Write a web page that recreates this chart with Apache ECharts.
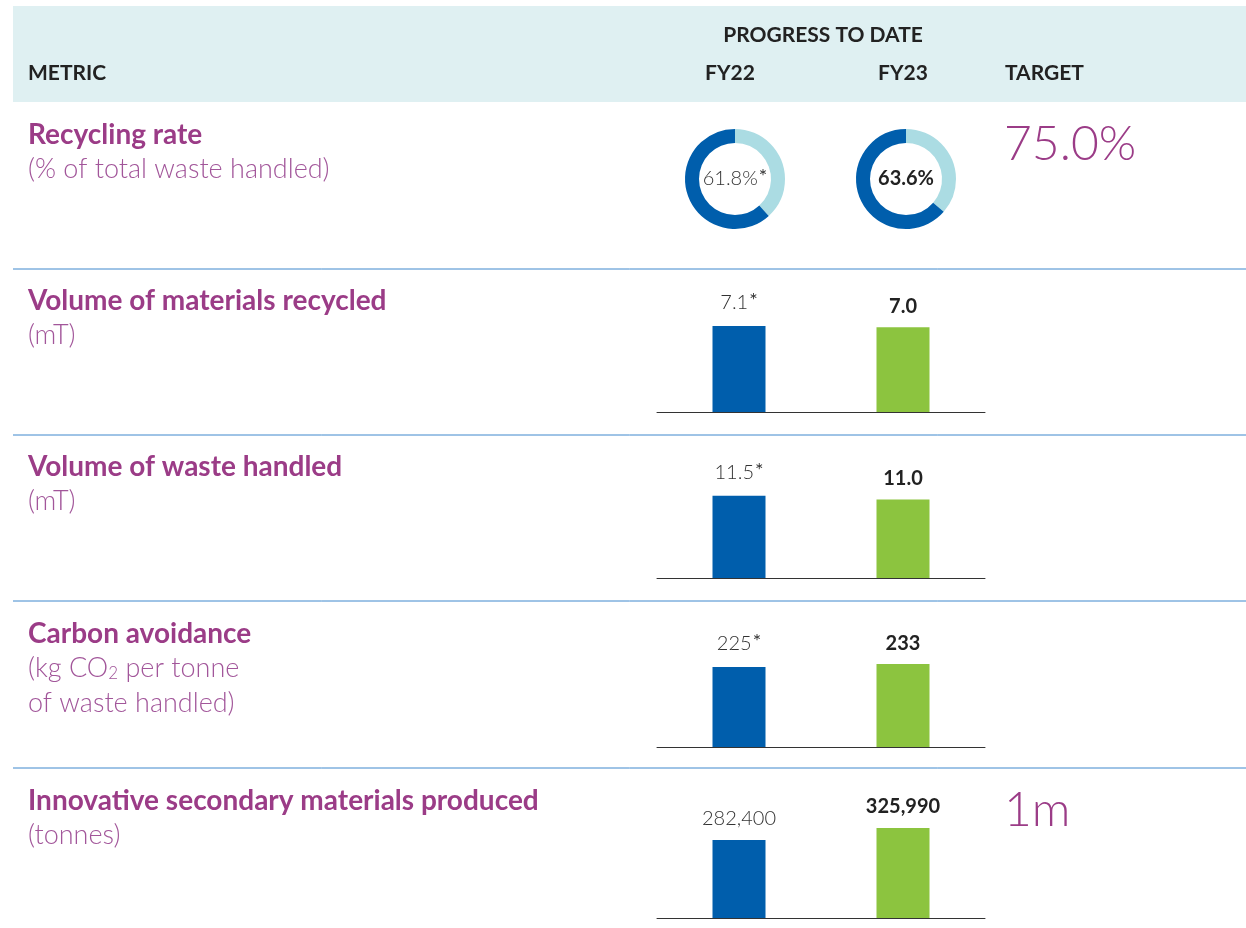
<!DOCTYPE html>
<html>
<head>
<meta charset="utf-8">
<script src="https://cdn.jsdelivr.net/npm/echarts@6/dist/echarts.min.js"></script>
<style>
  html, body { margin: 0; padding: 0; background: #fff; }
  #chart { width: 1246px; height: 928px; }
</style>
</head>
<body>
<div id="chart"></div>
<script>
// data
const years = ['FY22', 'FY23'];
const metrics = [
  'Recycling rate',
  'Volume of materials recycled',
  'Volume of waste handled',
  'Carbon avoidance',
  'Innovative secondary materials produced'
];
const units = [
  ['(% of total waste handled)'],
  ['(mT)'],
  ['(mT)'],
  ['(kg CO{sub|2} per tonne', 'of waste handled)'],
  ['(tonnes)']
];
const fy22 = [61.8, 7.1, 11.5, 225, 282400];
const fy23 = [63.6, 7.0, 11.0, 233, 325990];
const fy22Restated = [true, true, true, true, false];   // the little asterisk
const decimals = [1, 1, 1, 0, 0];
const targets = ['75.0%', '', '', '', '1m'];

const FONT = 'Lato, "Noto Sans", sans-serif';
const PURPLE = '#9b3c87';
const PURPLE_LIGHT = '#a2569a';
const BLUE = '#005eac';
const TEAL = '#abdce3';
const GREEN = '#8cc43f';

// row layout (y of title line, bar baseline)
const titleY = [135, 301, 467, 634, 801];
const separatorY = [269, 435, 601, 768];
const baseY = [null, 412, 578, 747, 918];
const yMax = [null, 8.26, 14.0, 281, 362000];

function fmt(v, d) {
  return v.toLocaleString('en-US', { minimumFractionDigits: d, maximumFractionDigits: d });
}

const chart = echarts.init(document.getElementById('chart'));

const HEAD = 'bold 21px ' + FONT;
// header + row text
const graphic = [
  { type: 'rect', shape: { x: 13, y: 6, width: 1233, height: 96 }, style: { fill: '#dff0f2' }, silent: true },
  { type: 'text', style: { text: 'PROGRESS TO DATE', x: 823, y: 35, align: 'center', verticalAlign: 'middle', font: HEAD, fill: '#222' } },
  { type: 'text', style: { text: 'METRIC', x: 28, y: 73, align: 'left', verticalAlign: 'middle', font: HEAD, fill: '#222' } },
  { type: 'text', style: { text: years[0], x: 730, y: 73, align: 'center', verticalAlign: 'middle', font: HEAD, fill: '#222' } },
  { type: 'text', style: { text: years[1], x: 903, y: 73, align: 'center', verticalAlign: 'middle', font: HEAD, fill: '#222' } },
  { type: 'text', style: { text: 'TARGET', x: 1005, y: 73, align: 'left', verticalAlign: 'middle', font: HEAD, fill: '#222' } }
];

separatorY.forEach(function (y) {
  graphic.push({ type: 'line', shape: { x1: 13, y1: y, x2: 1246, y2: y }, style: { stroke: '#3f88cd', lineWidth: 1 }, silent: true });
});

metrics.forEach(function (m, i) {
  graphic.push({ type: 'text', style: { text: m, x: 28, y: titleY[i], align: 'left', verticalAlign: 'middle', font: 'bold 28px ' + FONT, fill: PURPLE } });
  units[i].forEach(function (u, k) {
    graphic.push({
      type: 'text',
      style: {
        text: u, x: 28, y: titleY[i] + 34 + k * 35, align: 'left', verticalAlign: 'middle',
        font: '300 27px ' + FONT, fill: PURPLE_LIGHT,
        rich: { sub: { fontSize: 17, fontWeight: 300, fontFamily: FONT, fill: PURPLE_LIGHT, padding: [11, 0, 0, 0] } }
      }
    });
  });
  if (targets[i]) {
    graphic.push({ type: 'text', style: { text: targets[i], x: 1004, y: titleY[i] + 10, align: 'left', verticalAlign: 'middle', font: '300 48px ' + FONT, fill: PURPLE } });
  }
});

const richLight = {
  v: { fontSize: 20, fontWeight: 300, fontFamily: FONT, color: '#333' },
  s: { fontSize: 20, fontWeight: 400, fontFamily: FONT, color: '#333', padding: [0, 0, 4, 1] }
};
const richBold = {
  v: { fontSize: 20, fontWeight: 'bold', fontFamily: FONT, color: '#222' }
};

function lightLabel(r) {
  return '{v|' + fmt(fy22[r], decimals[r]) + (r === 0 ? '%' : '') + '}' + (fy22Restated[r] ? '{s|*}' : '');
}
function boldLabel(r) {
  return '{v|' + fmt(fy23[r], decimals[r]) + (r === 0 ? '%' : '') + '}';
}

// recycling rate donuts
const series = [];
const donutCenters = [[735, 179], [906, 179]];
[fy22, fy23].forEach(function (arr, k) {
  const txt = k === 0 ? lightLabel(0) : boldLabel(0);
  series.push({
    type: 'pie',
    center: donutCenters[k],
    radius: [36, 50],
    startAngle: 90,
    clockwise: true,
    silent: true,
    label: { show: false },
    labelLine: { show: false },
    emphasis: { disabled: true },
    data: [
      { name: 'rest', value: 100 - arr[0], itemStyle: { color: TEAL } },
      {
        name: years[k], value: arr[0], itemStyle: { color: BLUE },
        label: { show: true, position: 'center', formatter: txt, rich: k === 0 ? richLight : richBold }
      }
    ]
  });
});

// bar rows
const grids = [], xAxes = [], yAxes = [];
for (let r = 1; r < metrics.length; r++) {
  const gi = grids.length;
  grids.push({ left: 657, width: 328, top: baseY[r] - 100, height: 100 });
  xAxes.push({
    gridIndex: gi, type: 'category', data: years,
    axisLine: { show: true, lineStyle: { color: '#333', width: 1 } },
    axisTick: { show: false }, axisLabel: { show: false }
  });
  yAxes.push({ gridIndex: gi, type: 'value', min: 0, max: yMax[r], show: false, splitLine: { show: false } });
  series.push({
    type: 'bar', xAxisIndex: gi, yAxisIndex: gi, barWidth: 53, silent: true,
    data: [
      { value: fy22[r], itemStyle: { color: BLUE }, label: { show: true, position: 'top', distance: 11, formatter: lightLabel(r), rich: richLight } },
      { value: fy23[r], itemStyle: { color: GREEN }, label: { show: true, position: 'top', distance: 11, formatter: boldLabel(r), rich: richBold } }
    ]
  });
}

chart.setOption({
  animation: false,
  backgroundColor: '#fff',
  textStyle: { fontFamily: FONT },
  graphic: graphic,
  grid: grids,
  xAxis: xAxes,
  yAxis: yAxes,
  series: series
});
</script>
</body>
</html>
